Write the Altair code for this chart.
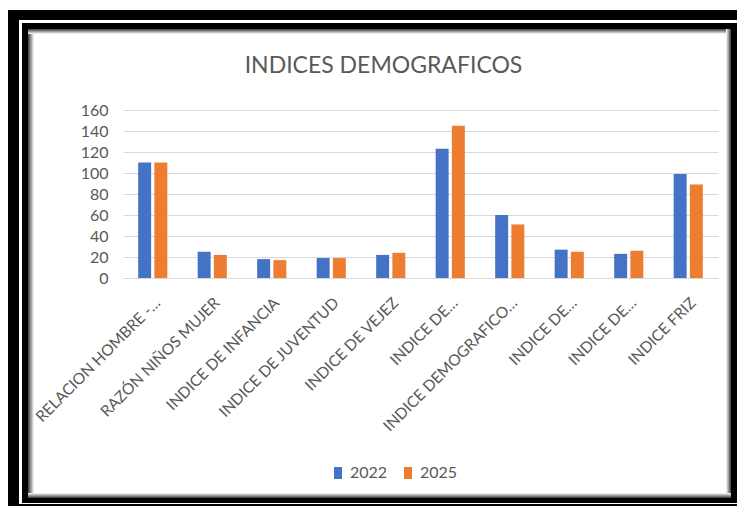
import json
import altair as alt
import pandas as pd

# ---------------- data ----------------
labels = [
    "RELACION HOMBRE -…",
    "RAZÓN NIÑOS MUJER",
    "INDICE DE INFANCIA",
    "INDICE DE JUVENTUD",
    "INDICE DE VEJEZ",
    "INDICE DE…",
    "INDICE DEMOGRAFICO…",
    "INDICE DE…",
    "INDICE DE…",
    "INDICE FRIZ",
]
years = ["2022", "2025"]
v2022 = [110, 25, 18, 19, 22, 123, 60, 27, 23, 99]
v2025 = [110, 22, 17, 19, 24, 145, 51, 25, 26, 89]
y_ticks = [0, 20, 40, 60, 80, 100, 120, 140, 160]
title_text = "INDICES DEMOGRAFICOS"

rows = []
for i, lab in enumerate(labels):
    rows.append({"idx": i, "label": lab, "year": years[0], "value": v2022[i]})
    rows.append({"idx": i, "label": lab, "year": years[1], "value": v2025[i]})
df = pd.DataFrame(rows)

label_expr = "[" + ",".join(json.dumps(l, ensure_ascii=False) for l in labels) + "][datum.value]"

FONT = "Lato"
GREY = "#595959"

# plot origin in page coordinates
OX, OY = 123, 110


def strip(x0, x1, y0, y1, color):
    return alt.Chart(alt.Data(values=[{}])).mark_rect(color=color).encode(
        x=alt.value(x0 - OX), x2=alt.value(x1 - OX),
        y=alt.value(y0 - OY), y2=alt.value(y1 - OY),
    )


def grad(horizontal, dark_first):
    dark, light = "#3a3a3a", "#ffffff"
    a, b = (dark, light) if dark_first else (light, dark)
    stops = [alt.GradientStop(offset=0, color=a), alt.GradientStop(offset=1, color=b)]
    if horizontal:
        return alt.LinearGradient(gradient="linear", stops=stops, x1=0, x2=1, y1=0, y2=0)
    return alt.LinearGradient(gradient="linear", stops=stops, x1=0, x2=0, y1=0, y2=1)


frame = [
    # outer black frame
    strip(8, 737, 10, 20, "black"),
    strip(8, 19, 10, 506, "black"),
    strip(8, 737, 504, 506, "black"),
    # inner black frame
    strip(22, 737, 23, 29, "black"),
    strip(22, 28, 23, 503, "black"),
    strip(22, 737, 498, 503, "black"),
    strip(731, 737, 23, 503, "black"),
    # soft inner shadow
    strip(28, 34, 29, 498, grad(True, True)),
    strip(28, 731, 29, 34, grad(False, True)),
    strip(726, 731, 29, 498, grad(True, False)),
    strip(28, 731, 493, 498, grad(False, False)),
]

title_mark = alt.Chart(alt.Data(values=[{}])).mark_text(
    text=title_text, font=FONT, fontSize=23, color=GREY,
    align="center", baseline="alphabetic",
).encode(x=alt.value(383.5 - OX), y=alt.value(73 - OY))

bars = alt.Chart(df).mark_bar().encode(
    x=alt.X(
        "idx:O",
        scale=alt.Scale(paddingInner=0.51, paddingOuter=0.255),
        axis=alt.Axis(
            title=None, labelExpr=label_expr, labelAngle=-45,
            labelAlign="right", labelBaseline="top",
            labelFontSize=15.5, labelColor=GREY, labelFont=FONT,
            ticks=False, domainColor="#D9D9D9", domainWidth=1,
            labelPadding=17, labelLimit=400,
        ),
    ),
    xOffset=alt.XOffset("year:N", scale=alt.Scale(paddingInner=0.2, paddingOuter=0)),
    y=alt.Y(
        "value:Q",
        scale=alt.Scale(domain=[0, 160], nice=False),
        axis=alt.Axis(
            values=y_ticks, title=None, ticks=False, domain=False,
            gridColor="#D9D9D9", gridWidth=1,
            labelFontSize=16, labelColor=GREY, labelFont=FONT, labelPadding=15,
        ),
    ),
    color=alt.Color(
        "year:N",
        scale=alt.Scale(domain=years, range=["#4472C4", "#ED7D31"]),
        legend=alt.Legend(
            title=None, orient="none", legendX=207, legendY=355,
            direction="horizontal",
            symbolType="M-0.67,-1H0.67V1H-0.67Z", symbolSize=144,
            symbolStrokeWidth=0,
            labelFontSize=16, labelColor=GREY, labelFont=FONT,
            columnPadding=12, labelOffset=4,
        ),
    ),
)

chart = alt.layer(*frame, title_mark, bars).properties(
    width=595, height=168,
    padding={"left": 115, "top": 102, "right": 19, "bottom": 228},
    autosize=alt.AutoSizeParams(type="none"),
    background="white",
).configure_view(stroke=None)

chart.save("out.html", embed_options={"renderer": "svg", "actions": False})
